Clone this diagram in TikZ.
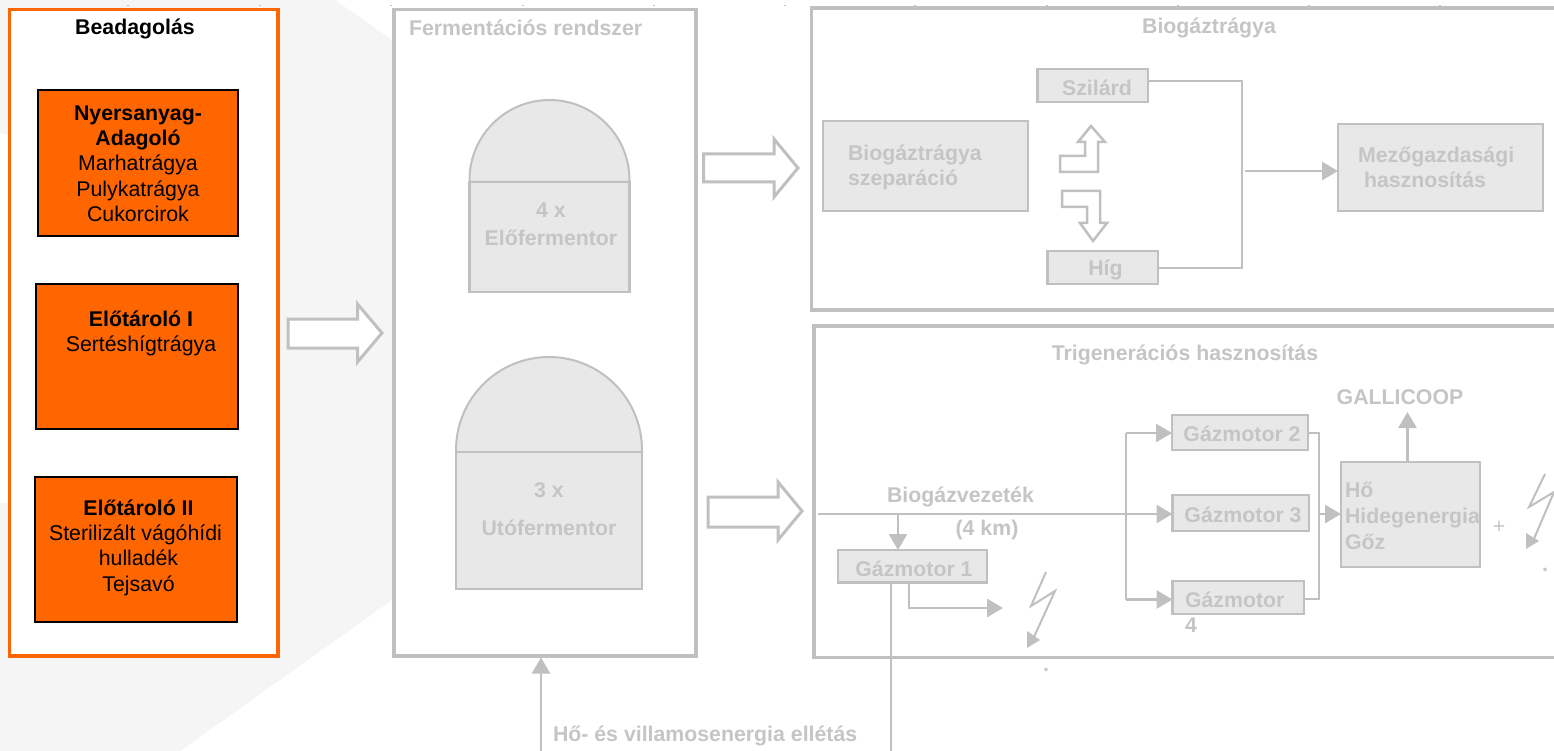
\documentclass[tikz,border=0pt]{standalone}
\usepackage{fontspec}
\setmainfont{Liberation Sans}
\usetikzlibrary{arrows.meta}
\definecolor{orangeP}{HTML}{FF6600}
\definecolor{lineG}{HTML}{C0C0C0}
\definecolor{textG}{HTML}{C5C5C5}
\definecolor{fillG}{HTML}{E8E8E8}
\definecolor{bgG}{HTML}{F5F5F5}
\newcommand{\bx}[6][]{\node[#2,#1,minimum width={(#5-#3)*1pt},minimum height={(#6-#4)*1pt}] at ({(#3+#5)/2},{(#4+#6)/2}) {};}
\tikzset{
 x=1pt,y=-1pt,
 every node/.style={inner sep=0pt,outer sep=0pt},
 base font/.style={font=\fontsize{21.3}{25.3}\selectfont},
 black text/.style={base font,text=black,align=center},
 title black/.style={black text,font=\fontsize{21.3}{25.3}\selectfont\bfseries},
 grey text/.style={font=\fontsize{21.3}{25.3}\selectfont\bfseries,text=textG,align=center},
 grey left/.style={grey text,align=left,anchor=west},
 orange panel/.style={draw=orangeP,line width=3.5pt,fill=white},
 grey panel/.style={draw=lineG,line width=3.5pt,fill=white},
 feed box/.style={draw=black,line width=2pt,fill=orangeP},
 grey box/.style={draw=lineG,line width=2.5pt,fill=fillG},
 hollow arrow/.style={draw=lineG,line width=3pt,fill=white,miter limit=10},
 bent arrow/.style={draw=lineG,line width=2.5pt,fill=white,miter limit=10},
 link/.style={draw=lineG,line width=2pt},
 flow/.style={draw=lineG,line width=2.7pt,-{Triangle[length=16pt,width=18pt,fill=lineG]}},
 bolt/.style={draw=lineG,line width=2pt},
 bolt tip/.style={fill=lineG,draw=none},
}
\begin{document}
\begin{tikzpicture}
\useasboundingbox (0,0) rectangle (1554,751);
\clip (0,0) rectangle (1554,751);
\fill[white] (0,0) rectangle (1554,751);
% background chevron
\fill[bgG] (0,0) -- (335,0) -- (392,40) -- (392,600) -- (180,751) -- (0,751) -- (0,503) -- (8,503) -- (8,135) -- (0,133) -- cycle;
% tick marks
\foreach \tk in {128,260,391,523,654,785,915,1047,1178,1309,1440}
  \draw[lineG,line width=1pt] (\tk-1,5.5) -- (\tk+1,5.5);
% panels
\bx[name=inP]{orange panel}{9.5}{9.5}{278}{656}
\bx[name=ferP]{grey panel}{394}{9.5}{696}{656}
\bx[name=bioP]{grey panel}{811.5}{8}{1600}{310}
\bx[name=triP]{grey panel}{814}{326}{1600}{657.5}
% feed panel
\node[title black] (beadT) at (135,28.5) {Beadagolás};
\bx[name=feedA]{feed box}{38}{90.5}{238}{236}
\bx[name=feedB]{feed box}{36}{284}{238}{428.5}
\bx[name=feedC]{feed box}{35}{477}{236.5}{622}
\node[black text] (feedAT) at (138,163.5) {\textbf{Nyersanyag-}\\\textbf{Adagoló}\\Marhatrágya\\Pulykatrágya\\Cukorcirok};
\node[black text] (feedBT) at (141,333.5) {\textbf{Előtároló I}\\Sertéshígtrágya};
\node[black text] (feedCT) at (138.5,547.5) {\textbf{Előtároló II}\\Sterilizált vágóhídi\kern6pt\\hulladék\\Tejsavó};
% hollow arrows
\draw[hollow arrow] (288,319) -- (357.5,319) -- (357.5,304) -- (382,333) -- (357.5,362) -- (357.5,348) -- (288,348) -- cycle;
\draw[hollow arrow] (703.5,154) -- (774,154) -- (774,139) -- (798,168) -- (774,197) -- (774,182) -- (703.5,182) -- cycle;
\draw[hollow arrow] (708,497) -- (778,497) -- (778,482) -- (802,511) -- (778,540) -- (778,527) -- (708,527) -- cycle;
% fermentation
\node[grey left] (ferT) at (409,27.5) {Fermentációs rendszer};
\path[draw=lineG,line width=2pt,fill=fillG] (469.5,182) -- (469.5,180) arc[start angle=180,end angle=360,radius=80] -- (629.5,182) -- cycle;
\bx[name=preF]{grey box}{469.5}{182}{629.5}{292}
\node[grey text,font=\fontsize{21.3}{28}\selectfont\bfseries] (preT) at (551,224.5) {4 x\\Előfermentor};
\path[draw=lineG,line width=2pt,fill=fillG] (456,452) -- (456,450) arc[start angle=180,end angle=360,radius=93] -- (642,452) -- cycle;
\bx[name=postF]{grey box}{456}{452}{642}{589}
\node[grey text,font=\fontsize{21.3}{38}\selectfont\bfseries] (postT) at (549,509.5) {3 x\\Utófermentor};
\coordinate (enIn) at (541,760);
\draw[flow] (enIn) -- (541,657.5);
\node[grey left] (enT) at (553,735.5) {Hő- és villamosenergia ellétás};
% digestate
\node[grey text] (bioT) at (1209,27.5) {Biogáztrágya};
\bx[name=sepB]{grey box}{823}{121}{1028}{211}
\node[grey left] (sepT) at (848,167.5) {Biogáztrágya\\szeparáció};
\bx[name=solB]{grey box}{1037.5}{69}{1148}{102}
\node[grey text] (solT) at (1097,87.5) {Szilárd};
\bx[name=liqB]{grey box}{1047.5}{251}{1158}{284}
\node[grey text] (liqT) at (1105.5,269.5) {Híg};
\bx[name=agrB]{grey box}{1338}{124}{1543}{211}
\node[grey left] (agrT) at (1358,167) {Mezőgazdasági\\\kern6pt hasznosítás};
\draw[bent arrow] (1060,156) -- (1085,156) -- (1085,142) -- (1078,142) -- (1091,126) -- (1105,142) -- (1098,142) -- (1098,172) -- (1060,172) -- cycle;
\draw[bent arrow] (1062,191) -- (1100,191) -- (1100,223) -- (1107,223) -- (1093,241) -- (1080,223) -- (1087,223) -- (1087,207) -- (1062,207) -- cycle;
\coordinate (busD) at (1242,81);
\coordinate (busE) at (1242,268);
\draw[link] (solB.east |- busD) -- (busD) -- (busE) -- (liqB.east |- busE);
\coordinate (busOut) at (1245,171);
\draw[flow] (busOut) -- (agrB.west |- busOut);
% trigeneration
\node[grey text] (triT) at (1185,354.5) {Trigenerációs hasznosítás};
\bx[name=gm1]{grey box}{838}{550}{987}{582.5}
\node[grey text] (gm1T) at (914,568.5) {Gázmotor 1};
\bx[name=gm2]{grey box}{1172}{415}{1308}{450}
\node[grey text] (gm2T) at (1242,433.5) {Gázmotor 2};
\bx[name=gm3]{grey box}{1172.5}{495}{1309}{531}
\node[grey text] (gm3T) at (1243,514.5) {Gázmotor 3};
\bx[name=gm4]{grey box}{1172.5}{581}{1304}{614}
\node[grey left] (gm4T) at (1185,612) {Gázmotor\\4};
\bx[name=heatB]{grey box}{1341}{462}{1480}{567}
\node[grey left,font=\fontsize{21.3}{26}\selectfont\bfseries] (heatT) at (1345,515.5) {Hő\\Hidegenergia\\Gőz};
\node[grey text] (pipeT) at (960.5,496.5) {Biogázvezeték};
\node[grey text] (kmT) at (987,529.5) {(4 km)};
\node[grey text] (galT) at (1400,397.5) {GALLICOOP};
\node[text=textG,font=\fontsize{21.3}{24}\selectfont] (plusT) at (1499,527) {+};
\node[grey text] (dotA) at (1046,670) {.};
\node[grey text] (dotB) at (1545,570) {.};
\coordinate (pipeS) at (818,514);
\draw[flow] (pipeS) -- (gm3.west |- pipeS);
\coordinate (tapA) at (898,514);
\draw[flow] (tapA) -- (tapA |- gm1.north);
\coordinate (branchT) at (1126,433);
\coordinate (branchB) at (1126,599.5);
\draw[link] (branchT) -- (branchB);
\draw[flow] (branchT) -- (gm2.west |- branchT);
\draw[flow] (branchB) -- (gm4.west |- branchB);
\coordinate (gm1elA) at (909,582.5);
\coordinate (gm1elB) at (909,608);
\coordinate (boltIn) at (1003,608);
\draw[flow] (gm1elA) -- (gm1elB) -- (boltIn);
\coordinate (gm1dn) at (890.5,760);
\draw[link] (gm1dn |- gm1.south) -- (gm1dn);
\coordinate (collT) at (1318.5,433);
\coordinate (collB) at (1318.5,599);
\draw[link] (gm2.east |- collT) -- (collT) -- (collB) -- (gm4.east |- collB);
\coordinate (collOut) at (1320,514);
\draw[flow] (collOut) -- (heatB.west |- collOut);
\coordinate (heatUp) at (1407.5,462);
\draw[flow] (heatUp) -- (1407.5,412);
% lightning bolts
\draw[bolt] (1046,572) -- (1031,606) -- (1055,591) -- (1033,639);
\fill[bolt tip] (1027,648) -- (1027,631) -- (1040,640) -- cycle;
\draw[bolt] (1545,474) -- (1529,507) -- (1554,492) -- (1533,541);
\fill[bolt tip] (1526,549) -- (1526,533) -- (1539,541) -- cycle;
\end{tikzpicture}
\end{document}
